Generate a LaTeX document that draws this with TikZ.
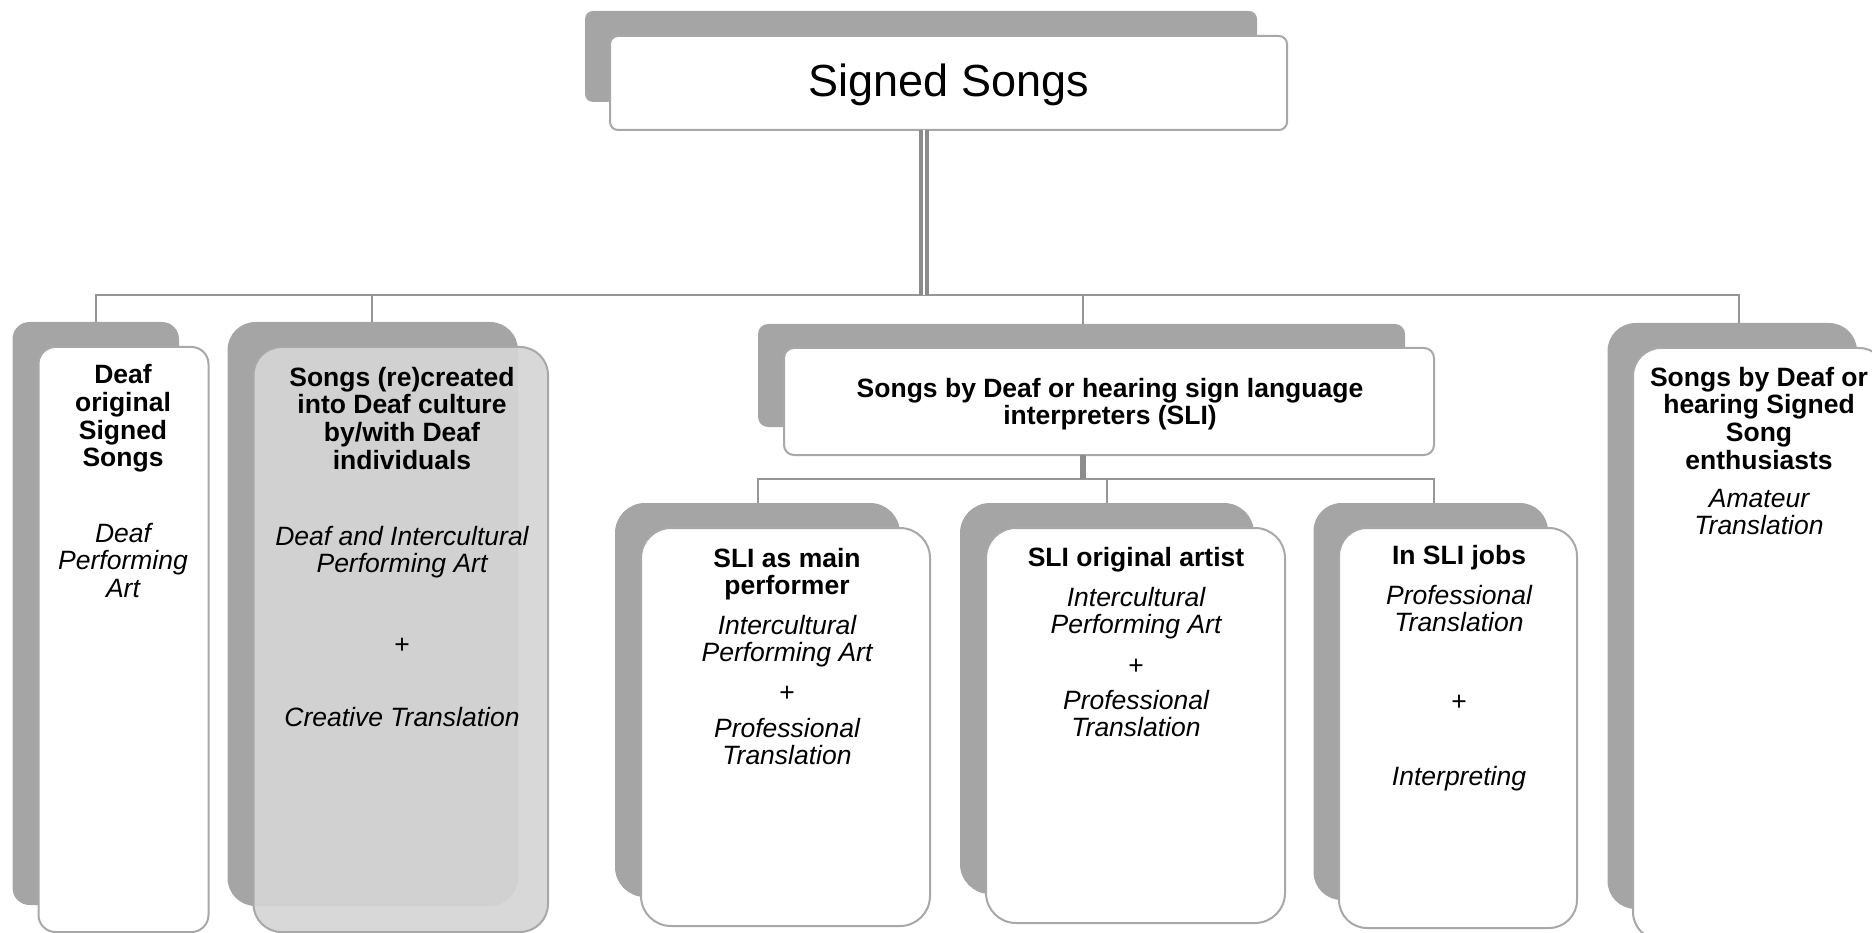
\documentclass[tikz,border=0pt]{standalone}
\usepackage{fontspec}
\setmainfont{Liberation Sans}
\definecolor{shd}{RGB}{165,165,165}
\definecolor{bdr}{RGB}{168,168,168}
\definecolor{cnn}{RGB}{150,150,150}
\definecolor{dcn}{RGB}{140,140,140}
\definecolor{lgf}{RGB}{213,213,213}
\newcommand{\fl}{\rule{0pt}{20pt}}
\begin{document}
\begin{tikzpicture}[x=1pt,y=-1pt,
 shadowbox/.style={rectangle, fill=shd, draw=none, inner sep=0pt, outer sep=0pt},
 frontbox/.style={rectangle, fill=white, draw=bdr, line width=2pt, inner sep=0pt, outer sep=0pt},
 conn/.style={draw=cnn, line width=2.4pt},
 dbl/.style={draw=dcn, line width=3.7pt, double=white, double distance=2.7pt},
 boldtxt/.style={font=\fontsize{26.5}{27.7}\selectfont\bfseries, align=center, inner sep=0pt, anchor=north},
 italtxt/.style={font=\fontsize{26.5}{27.7}\selectfont\itshape, align=center, inner sep=0pt, anchor=north},
 plustxt/.style={font=\fontsize{26.5}{27.7}\selectfont, inner sep=0pt, anchor=base},
]
\useasboundingbox (0,0) rectangle (1872,933);
\clip (0,0) rectangle (1872,933);

% shadows
\node[shadowbox, rounded corners=8pt, minimum width=672pt, minimum height=91pt] (tops) at (921,56.5) {};
\node[shadowbox, rounded corners=17pt, minimum width=166.5pt, minimum height=583pt] (s1) at (95.75,613.5) {};
\node[shadowbox, rounded corners=28pt, minimum width=290.5pt, minimum height=584pt] (s2) at (372.75,614) {};
\node[shadowbox, rounded corners=10pt, minimum width=647pt, minimum height=103pt] (s3) at (1081.5,375.5) {};
\node[shadowbox, rounded corners=28pt, minimum width=249.5pt, minimum height=586pt] (s4) at (1732.25,616) {};
\node[shadowbox, rounded corners=30pt, minimum width=285pt, minimum height=394pt] (c1s) at (757.5,700) {};
\node[shadowbox, rounded corners=30pt, minimum width=294pt, minimum height=391pt] (c2s) at (1107,698.5) {};
\node[shadowbox, rounded corners=28pt, minimum width=234.5pt, minimum height=397pt] (c3s) at (1430.75,701.5) {};

% fronts
\node[frontbox, rounded corners=8pt, minimum width=677pt, minimum height=94pt] (topf) at (948.5,83) {};
\node[frontbox, rounded corners=17pt, minimum width=170pt, minimum height=585pt] (f1) at (123.5,639.5) {};
\node[frontbox, rounded corners=28pt, minimum width=294.5pt, minimum height=585pt, fill=lgf, fill opacity=0.93] (f2) at (400.75,639.5) {};
\node[frontbox, rounded corners=10pt, minimum width=650pt, minimum height=107pt] (f3) at (1109,401.5) {};
\node[frontbox, rounded corners=28pt, minimum width=254pt, minimum height=592pt] (f4) at (1760,644) {};
\node[frontbox, rounded corners=30pt, minimum width=289pt, minimum height=398pt] (c1f) at (785.5,727) {};
\node[frontbox, rounded corners=30pt, minimum width=299pt, minimum height=395pt] (c2f) at (1135.5,725.5) {};
\node[frontbox, rounded corners=28pt, minimum width=238pt, minimum height=400pt] (c3f) at (1458,728) {};

% connectors level 1
\coordinate (j0) at (924,295);
\coordinate (b1) at (96,295);
\coordinate (b2) at (372,295);
\coordinate (b3) at (1083,295);
\coordinate (b4) at (1739,295);
\draw[conn] (b1 |- s1.north) -- (b1) -- (b4) -- (b4 |- s4.north);
\draw[conn] (b2) -- (b2 |- s2.north);
\draw[conn] (b3) -- (b3 |- s3.north);
\draw[dbl] (topf.south -| j0) -- (j0);

% connectors level 2
\coordinate (k0) at (1083,479);
\coordinate (k1) at (758,479);
\coordinate (k2) at (1107,479);
\coordinate (k3) at (1434,479);
\draw[conn] (k1 |- c1s.north) -- (k1) -- (k3) -- (k3 |- c3s.north);
\draw[conn] (k2) -- (k2 |- c2s.north);
\draw[draw=dcn, line width=5.5pt] (f3.south -| k0) -- (k0);

% texts
\node[font=\fontsize{45}{50}\selectfont, inner sep=0pt, anchor=base] (title) at (949,97) {Signed Songs};

\node[boldtxt] (t1a) at (123,363.5) {\fl Deaf\\original\\Signed\\Songs};
\node[italtxt] (t1b) at (123,522) {\fl Deaf\\Performing\\Art};

\node[boldtxt] (t2a) at (402,366) {\fl Songs (re)created\\into Deaf culture\\by/with Deaf\\individuals};
\node[italtxt] (t2b) at (402,525) {\fl Deaf and Intercultural\\Performing Art};
\node[plustxt] (t2c) at (402,653) {+};
\node[italtxt] (t2d) at (402,706) {\fl Creative Translation};

\node[boldtxt] (t3a) at (1110,377) {\fl Songs by Deaf or hearing sign language\\interpreters (SLI)};

\node[boldtxt] (t4a) at (1759,366) {\fl Songs by Deaf or\\hearing Signed\\Song\\enthusiasts};
\node[italtxt] (t4b) at (1759,487) {\fl Amateur\\Translation};

\node[boldtxt] (u1a) at (787,547) {\fl SLI as main\\performer};
\node[italtxt] (u1b) at (787,614) {\fl Intercultural\\Performing Art};
\node[plustxt] (u1c) at (787,701) {+};
\node[italtxt] (u1d) at (787,717) {\fl Professional\\Translation};

\node[boldtxt] (u2a) at (1136,546) {\fl SLI original artist};
\node[italtxt] (u2b) at (1136,586) {\fl Intercultural\\Performing Art};
\node[plustxt] (u2c) at (1136,674) {+};
\node[italtxt] (u2d) at (1136,689) {\fl Professional\\Translation};

\node[boldtxt] (u3a) at (1459,544) {\fl In SLI jobs};
\node[italtxt] (u3b) at (1459,584) {\fl Professional\\Translation};
\node[plustxt] (u3c) at (1459,710) {+};
\node[italtxt] (u3d) at (1459,765) {\fl Interpreting};
\end{tikzpicture}
\end{document}
